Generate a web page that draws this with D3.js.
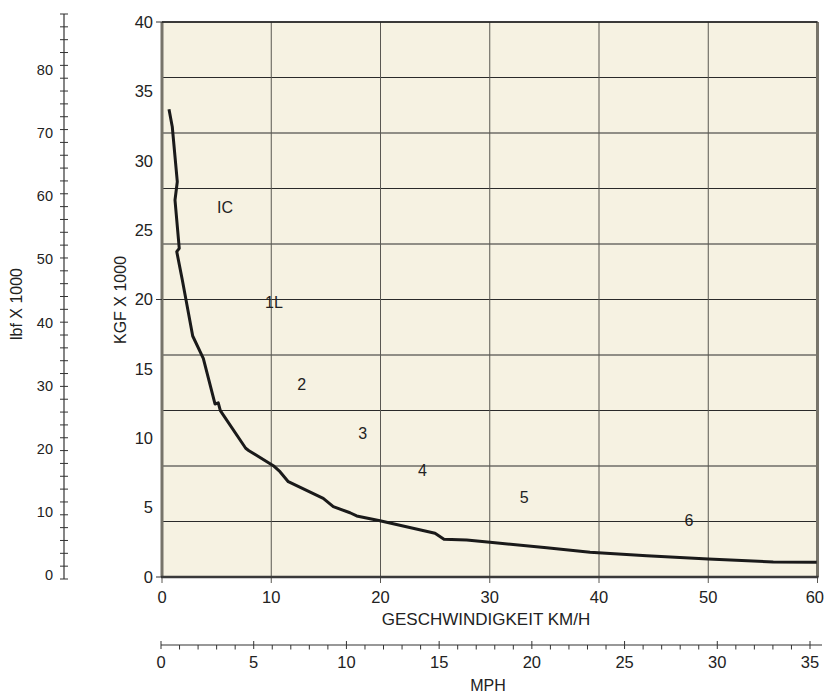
<!DOCTYPE html>
<html>
<head>
<meta charset="utf-8">
<script src="https://cdn.jsdelivr.net/npm/d3@7"></script>
<style>
  body { margin: 0; background: #fff; }
  text { font-family: "Liberation Sans", Arial, sans-serif; fill: #222; }
</style>
</head>
<body>
<div id="chart"></div>
<script>
// curve: speed km/h vs tractive force kgf x 1000
var speedKmh = [0.64, 0.94, 1.40, 1.19, 1.58, 1.35, 1.86, 2.20, 2.81, 3.78, 4.85, 5.15, 5.34,
  7.66, 7.96, 10.19, 10.80, 11.56, 14.76, 15.68, 17.21, 17.82, 19.95, 24.99, 25.81, 27.89,
  30.02, 35.21, 39.18, 44.37, 50.0, 55.95, 59.93];
var forceKgf = [33.71, 32.45, 28.49, 27.17, 23.69, 23.45, 21.41, 19.97, 17.37, 15.76, 12.47, 12.55, 11.99,
  9.28, 9.10, 8.02, 7.59, 6.87, 5.67, 5.07, 4.63, 4.40, 4.06, 3.15, 2.72, 2.67,
  2.50, 2.11, 1.78, 1.54, 1.30, 1.08, 1.06];

// gear labels and where they sit (data coords)
var gearNames = ["IC", "1L", "2", "3", "4", "5", "6"];
var gearX = [5.77, 10.25, 12.79, 18.37, 23.83, 33.16, 48.24];
var gearY = [26.67, 19.77, 13.91, 10.36, 7.66, 5.74, 4.06];

// tick values
var kgfTicks = [0, 5, 10, 15, 20, 25, 30, 35, 40];
var kgfMarks = [0, 20, 40];
var kgfGrid = [0, 4, 8, 12, 16, 20, 24, 28, 32, 36, 40];
var kmhTicks = [0, 10, 20, 30, 40, 50, 60];
var mphTicks = [0, 5, 10, 15, 20, 25, 30, 35];
var lbfTicks = [0, 10, 20, 30, 40, 50, 60, 70, 80];

var width = 825, height = 697;

var svg = d3.select("#chart").append("svg")
  .attr("width", width)
  .attr("height", height);

// scales
var x = d3.scaleLinear().domain([0, 60]).range([162, 817.5]);
var y = d3.scaleLinear().domain([0, 40]).range([577, 22]);
var mph = d3.scaleLinear().domain([0, 35]).range([161, 810]);
var lbf = d3.scaleLinear().domain([0, 88]).range([579, 14]);
var lbfLabel = d3.scaleLinear().domain([0, 80]).range([575, 70]);

// plot background
svg.append("rect")
  .attr("x", x(0)).attr("y", y(40))
  .attr("width", x(60) - x(0)).attr("height", y(0) - y(40))
  .attr("fill", "#f6f2e2");

// grid
svg.append("g").selectAll("line").data(kgfGrid).enter().append("line")
  .attr("x1", x(0)).attr("x2", x(60))
  .attr("y1", function(d) { return y(d); })
  .attr("y2", function(d) { return y(d); })
  .attr("stroke", "#2a2a2a").attr("stroke-width", 1);

svg.append("g").selectAll("line").data(kmhTicks).enter().append("line")
  .attr("x1", function(d) { return x(d); })
  .attr("x2", function(d) { return x(d); })
  .attr("y1", y(40)).attr("y2", y(0) + 6)
  .attr("stroke", "#5a5852").attr("stroke-width", 1);

// frame
svg.append("line").attr("x1", x(0)).attr("x2", x(0)).attr("y1", y(40)).attr("y2", y(0))
  .attr("stroke", "#77746a").attr("stroke-width", 3);
svg.append("line").attr("x1", x(60)).attr("x2", x(60)).attr("y1", y(40)).attr("y2", y(0))
  .attr("stroke", "#77746a").attr("stroke-width", 3);
svg.append("line").attr("x1", x(0)).attr("x2", x(60)).attr("y1", y(40)).attr("y2", y(40))
  .attr("stroke", "#1e1e1e").attr("stroke-width", 1.5);
svg.append("line").attr("x1", x(0) - 1).attr("x2", x(60) + 1).attr("y1", y(0)).attr("y2", y(0))
  .attr("stroke", "#3a3a3a").attr("stroke-width", 2.5);

// kgf axis labels + the few tick marks
svg.append("g").selectAll("text").data(kgfTicks).enter().append("text")
  .attr("x", 153)
  .attr("y", function(d) { return y(d); })
  .attr("dy", "0.35em")
  .attr("text-anchor", "end")
  .style("font-size", "16.5px")
  .text(function(d) { return d; });
svg.append("g").selectAll("line").data(kgfMarks).enter().append("line")
  .attr("x1", 156).attr("x2", x(0))
  .attr("y1", function(d) { return y(d); })
  .attr("y2", function(d) { return y(d); })
  .attr("stroke", "#333").attr("stroke-width", 1);

// km/h labels (last one pulled in so it stays on the page)
svg.append("g").selectAll("text").data(kmhTicks).enter().append("text")
  .attr("x", function(d) { return d == 60 ? 824 : x(d); })
  .attr("y", 597)
  .attr("dy", "0.35em")
  .attr("text-anchor", function(d) { return d == 60 ? "end" : "middle"; })
  .style("font-size", "16.5px")
  .text(function(d) { return d; });

svg.append("text")
  .attr("x", 486).attr("y", 619).attr("dy", "0.35em")
  .attr("text-anchor", "middle")
  .style("font-size", "17px")
  .text("GESCHWINDIGKEIT KM/H");

// mph axis
var mphY = 645;
svg.append("line").attr("x1", mph(0)).attr("x2", 822).attr("y1", mphY).attr("y2", mphY)
  .attr("stroke", "#333").attr("stroke-width", 1.2);
svg.append("g").selectAll("line").data(d3.range(0, 36)).enter().append("line")
  .attr("x1", function(d) { return mph(d); })
  .attr("x2", function(d) { return mph(d); })
  .attr("y1", function(d) { return d % 5 == 0 ? mphY - 4 : mphY; })
  .attr("y2", function(d) { return d % 5 == 0 ? mphY + 4 : mphY + 4.5; })
  .attr("stroke", "#333").attr("stroke-width", 1);
svg.append("g").selectAll("text").data(mphTicks).enter().append("text")
  .attr("x", function(d) { return mph(d); })
  .attr("y", 662)
  .attr("dy", "0.35em")
  .attr("text-anchor", "middle")
  .style("font-size", "16.5px")
  .text(function(d) { return d; });
svg.append("text")
  .attr("x", 488).attr("y", 685).attr("dy", "0.35em")
  .attr("text-anchor", "middle")
  .style("font-size", "16px")
  .text("MPH");

// lbf axis
var lbfX = 64;
svg.append("line").attr("x1", lbfX).attr("x2", lbfX).attr("y1", lbf(88)).attr("y2", lbf(0))
  .attr("stroke", "#333").attr("stroke-width", 1.2);
svg.append("g").selectAll("line").data(d3.range(0, 89, 2)).enter().append("line")
  .attr("x1", lbfX - 4).attr("x2", lbfX + 4)
  .attr("y1", function(d) { return lbf(d); })
  .attr("y2", function(d) { return lbf(d); })
  .attr("stroke", "#333").attr("stroke-width", 1);
svg.append("g").selectAll("text").data(lbfTicks).enter().append("text")
  .attr("x", 53)
  .attr("y", function(d) { return lbfLabel(d); })
  .attr("dy", "0.35em")
  .attr("text-anchor", "end")
  .style("font-size", "14.5px")
  .text(function(d) { return d; });

// axis titles
svg.append("text")
  .attr("transform", "translate(16,304) rotate(-90)")
  .attr("dy", "0.35em")
  .attr("text-anchor", "middle")
  .style("font-size", "16px")
  .text("lbf X 1000");
svg.append("text")
  .attr("transform", "translate(120,300) rotate(-90)")
  .attr("dy", "0.35em")
  .attr("text-anchor", "middle")
  .style("font-size", "16px")
  .text("KGF X  1000");

// curve
var pts = speedKmh.map(function(v, i) { return [v, forceKgf[i]]; });
var line = d3.line()
  .x(function(d) { return x(d[0]); })
  .y(function(d) { return y(d[1]); });
svg.append("path")
  .datum(pts)
  .attr("d", line)
  .attr("fill", "none")
  .attr("stroke", "#1a1a1a")
  .attr("stroke-width", 3)
  .attr("stroke-linejoin", "round");

// gear labels
svg.append("g").selectAll("text").data(gearNames).enter().append("text")
  .attr("x", function(d, i) { return x(gearX[i]); })
  .attr("y", function(d, i) { return y(gearY[i]); })
  .attr("dy", "0.35em")
  .attr("text-anchor", "middle")
  .style("font-size", "16px")
  .text(function(d) { return d; });
</script>
</body>
</html>
